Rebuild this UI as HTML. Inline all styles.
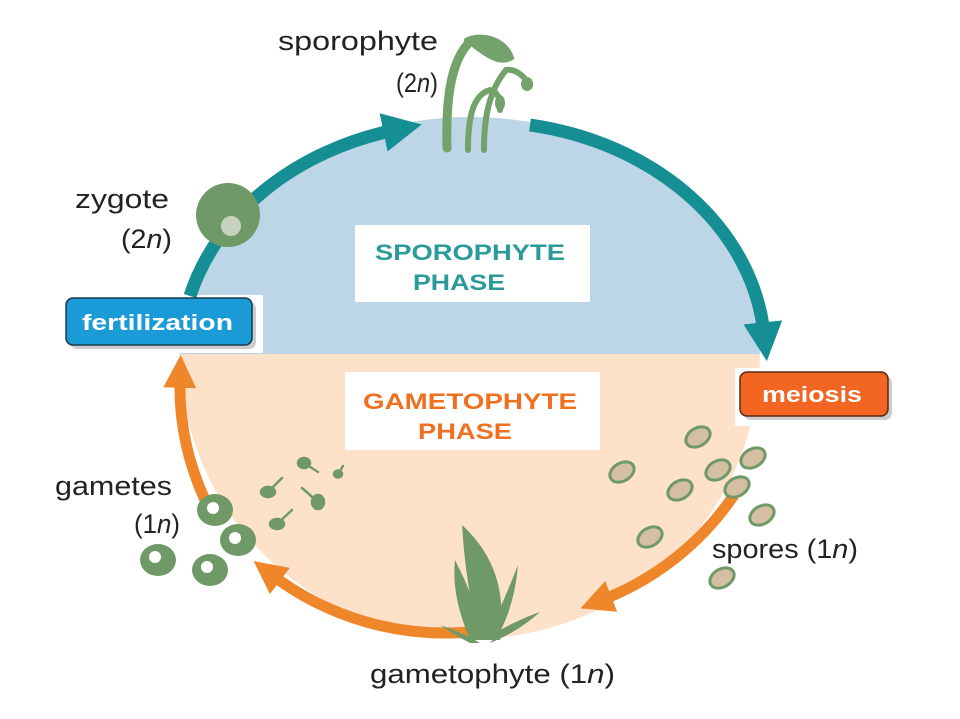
<!DOCTYPE html>
<html><head><meta charset="utf-8"><style>
html,body{margin:0;padding:0;background:#fff;}
svg{display:block;}
text{font-family:"Liberation Sans",sans-serif;}
</style></head><body>
<svg width="960" height="719" viewBox="0 0 960 719">
<defs>
<marker id="ht" viewBox="0 0 10 10" refX="3" refY="5" markerWidth="3" markerHeight="3" orient="auto" markerUnits="strokeWidth"><path d="M0,0 L10,5 L0,10 z" fill="#168f94"/></marker>
<marker id="ho" viewBox="0 0 10 10" refX="3" refY="5" markerWidth="3" markerHeight="3" orient="auto" markerUnits="strokeWidth"><path d="M0,0 L10,5 L0,10 z" fill="#f0862a"/></marker>
</defs>
<path d="M180,354 A290,237 0 0 1 760,354 Z" fill="#bdd6e7"/>
<path d="M180,354 A290,285 0 0 0 760,354 Z" fill="#fde2c9"/>
<rect x="60" y="295" width="203" height="58" fill="#fff"/>
<rect x="735" y="368" width="160" height="58" fill="#fff"/>
<path d="M190,296 A284,232 0 0 1 395,130" fill="none" stroke="#168f94" stroke-width="13" marker-end="url(#ht)"/>
<path d="M530,125 A284,232 0 0 1 764,334" fill="none" stroke="#168f94" stroke-width="13" marker-end="url(#ht)"/>
<path d="M734,495 A284,278 0 0 1 602,600" fill="none" stroke="#f0862a" stroke-width="11" marker-end="url(#ho)"/>
<path d="M470,632 A284,278 0 0 1 272,575" fill="none" stroke="#f0862a" stroke-width="11" marker-end="url(#ho)"/>
<path d="M205,500 A284,278 0 0 1 180,378" fill="none" stroke="#f0862a" stroke-width="11" marker-end="url(#ho)"/>
<rect x="355" y="225" width="235" height="77" fill="#fff"/>
<text x="375" y="260" font-size="22" font-weight="bold" fill="#2a9a9a" textLength="190" lengthAdjust="spacingAndGlyphs">SPOROPHYTE</text>
<text x="413" y="290" font-size="22" font-weight="bold" fill="#2a9a9a" textLength="92" lengthAdjust="spacingAndGlyphs">PHASE</text>
<rect x="345" y="372" width="255" height="78" fill="#fff"/>
<text x="363" y="409" font-size="22" font-weight="bold" fill="#f07020" textLength="214" lengthAdjust="spacingAndGlyphs">GAMETOPHYTE</text>
<text x="418" y="439" font-size="22" font-weight="bold" fill="#f07020" textLength="94" lengthAdjust="spacingAndGlyphs">PHASE</text>
<rect x="70" y="302" width="186" height="47" rx="7" fill="#999" opacity="0.5"/>
<rect x="66" y="298" width="186" height="47" rx="7" fill="#1a9ad6" stroke="#1a3a4a" stroke-width="1.5"/>
<text x="82" y="330" font-size="22" font-weight="bold" fill="#fff" textLength="151" lengthAdjust="spacingAndGlyphs">fertilization</text>
<rect x="744" y="376" width="148" height="44" rx="7" fill="#999" opacity="0.5"/>
<rect x="740" y="372" width="148" height="44" rx="7" fill="#f26522" stroke="#5a2a10" stroke-width="1.5"/>
<text x="762" y="402" font-size="22" font-weight="bold" fill="#fff" textLength="100" lengthAdjust="spacingAndGlyphs">meiosis</text>
<g>
<circle cx="228" cy="215" r="32" fill="#6f9a68"/>
<circle cx="231" cy="226" r="10" fill="#c8d3bf"/>
</g>
<g fill="none" stroke="#73a36a" stroke-linecap="round">
<path d="M447,148 C446,110 448,60 472,40" stroke-width="9"/>
<path d="M466,40 C480,32 506,38 512,58 C500,66 484,54 474,46" fill="#73a36a" stroke-width="4"/>
<path d="M468,150 C468,120 472,95 490,90 C498,92 500,98 500,110" stroke-width="6"/>
<path d="M484,150 C484,120 488,92 506,70 C516,68 526,78 530,86" stroke-width="6"/>
<ellipse cx="500" cy="103" rx="5" ry="8" fill="#73a36a" stroke="none"/>
<ellipse cx="527" cy="84" rx="6" ry="7" fill="#73a36a" stroke="none"/>
</g>
<g fill="#6f9a68">
<path d="M462,525 C500,560 505,600 500,640 L480,640 C470,600 465,570 462,525 Z"/>
<path d="M455,560 C470,590 480,615 485,640 L470,640 C460,615 452,590 455,560 Z"/>
<path d="M518,565 C515,600 505,625 495,640 L485,640 C498,615 508,590 518,565 Z"/>
<path d="M540,612 C525,625 510,635 490,643 L500,630 C515,622 528,616 540,612 Z"/>
<path d="M440,625 C455,630 468,636 480,643 L470,643 C460,638 450,632 440,625 Z"/>
</g>
<g fill="#d4bfa3" stroke="#6f9a68" stroke-width="3">
<ellipse cx="698" cy="437" rx="13" ry="9" transform="rotate(-30 698 437)"/>
<ellipse cx="622" cy="472" rx="13" ry="9" transform="rotate(-30 622 472)"/>
<ellipse cx="718" cy="470" rx="13" ry="9" transform="rotate(-30 718 470)"/>
<ellipse cx="753" cy="458" rx="13" ry="9" transform="rotate(-30 753 458)"/>
<ellipse cx="680" cy="490" rx="13" ry="9" transform="rotate(-30 680 490)"/>
<ellipse cx="737" cy="487" rx="13" ry="9" transform="rotate(-30 737 487)"/>
<ellipse cx="762" cy="515" rx="13" ry="9" transform="rotate(-30 762 515)"/>
<ellipse cx="650" cy="537" rx="13" ry="9" transform="rotate(-30 650 537)"/>
<ellipse cx="722" cy="578" rx="13" ry="9" transform="rotate(-30 722 578)"/>
</g>
<g fill="#6f9a68">
<ellipse cx="215" cy="510" rx="18" ry="16"/><circle cx="213" cy="508" r="6" fill="#fff"/>
<ellipse cx="238" cy="540" rx="18" ry="16"/><circle cx="235" cy="538" r="6" fill="#fff"/>
<ellipse cx="158" cy="560" rx="18" ry="16"/><circle cx="155" cy="557" r="6" fill="#fff"/>
<ellipse cx="210" cy="570" rx="18" ry="16"/><circle cx="207" cy="567" r="6" fill="#fff"/>
</g>
<g fill="#6f9a68" stroke="#6f9a68" stroke-width="2.5" stroke-linecap="round">
<ellipse cx="304" cy="463" rx="6" ry="5"/><path d="M304,463 L318,472" fill="none"/>
<ellipse cx="338" cy="474" rx="4" ry="3.5"/><path d="M338,474 L343,466" fill="none"/>
<ellipse cx="268" cy="492" rx="7" ry="5"/><path d="M268,492 L282,478" fill="none"/>
<ellipse cx="318" cy="502" rx="6" ry="7"/><path d="M318,502 L302,488" fill="none"/>
<ellipse cx="277" cy="524" rx="7" ry="5"/><path d="M277,524 L292,510" fill="none"/>
</g>
<g font-size="27" fill="#222">
<text x="278" y="50" textLength="160" lengthAdjust="spacingAndGlyphs">sporophyte</text>
<text x="396" y="92" textLength="42" lengthAdjust="spacingAndGlyphs">(2<tspan font-style="italic">n</tspan>)</text>
<text x="75" y="208" textLength="94" lengthAdjust="spacingAndGlyphs">zygote</text>
<text x="121" y="248" textLength="51" lengthAdjust="spacingAndGlyphs">(2<tspan font-style="italic">n</tspan>)</text>
<text x="55" y="495" textLength="117" lengthAdjust="spacingAndGlyphs">gametes</text>
<text x="134" y="533" textLength="46" lengthAdjust="spacingAndGlyphs">(1<tspan font-style="italic">n</tspan>)</text>
<text x="712" y="558" textLength="146" lengthAdjust="spacingAndGlyphs">spores (1<tspan font-style="italic">n</tspan>)</text>
<text x="370" y="683" textLength="245" lengthAdjust="spacingAndGlyphs">gametophyte (1<tspan font-style="italic">n</tspan>)</text>
</g>
</svg>
</body></html>
